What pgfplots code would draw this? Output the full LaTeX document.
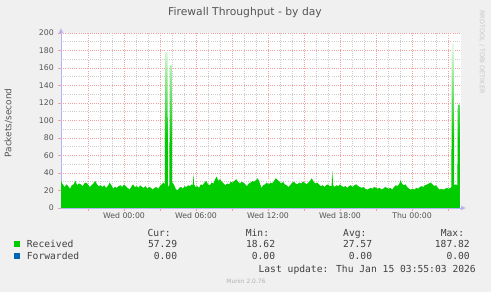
\documentclass[border=0pt]{standalone}
\usepackage{pgfplots}
\pgfplotsset{compat=1.18}
\usepackage{pgfplotstable}
\usepackage{fontspec}
\setmainfont{DejaVu Sans}
\newfontfamily\mono{DejaVu Sans Mono}
\usetikzlibrary{arrows.meta}
\definecolor{bgc}{HTML}{F0F0F0}
\definecolor{txt}{HTML}{555555}
\definecolor{legtxt}{HTML}{404040}
\definecolor{axc}{HTML}{B4B4F0}
\definecolor{recv}{HTML}{00CC00}
\definecolor{fwd}{HTML}{0066B3}
\definecolor{mgrid}{HTML}{F2A0A0}
\definecolor{ngrid}{HTML}{CCCCCC}
\pgfdeclareverticalshading{spikefade}{100bp}{color(0bp)=(recv); color(25bp)=(recv); color(46bp)=(recv); color(62bp)=(recv!50!white); color(75bp)=(recv!8!white); color(100bp)=(recv!8!white)}

\pgfplotstableread{
h v
-5.25 31
-5.10 27
-4.95 24
-4.80 27
-4.65 25
-4.50 22
-4.35 26
-4.20 27
-4.05 31
-3.90 26
-3.75 28
-3.60 27
-3.45 25
-3.30 28
-3.15 29
-3.00 27
-2.85 24
-2.70 26
-2.55 28
-2.40 31
-2.25 27
-2.10 25
-1.95 26
-1.80 24
-1.65 26
-1.50 23
-1.35 25
-1.20 29
-1.05 26
-0.90 22
-0.75 24
-0.60 23
-0.45 25
-0.30 26
-0.15 24
0.00 27
0.15 25
0.30 23
0.45 21
0.60 24
0.75 27
0.90 24
1.05 25
1.20 23
1.35 26
1.50 24
1.65 23
1.80 25
1.95 22
2.10 24
2.25 23
2.40 21
2.55 23
2.70 24
2.85 22
3.00 25
3.15 27
3.30 29
3.40 27
3.43 178
3.63 178
3.66 26
3.72 24
3.78 27
3.81 163
3.99 163
4.02 29
4.15 27
4.30 22
4.45 20
4.60 23
4.75 24
4.90 22
5.05 25
5.20 24
5.35 26
5.50 25
5.65 27
5.74 26
5.78 39
5.84 27
5.95 24
6.10 25
6.25 23
6.40 27
6.55 26
6.70 29
6.85 31
7.00 27
7.15 26
7.30 29
7.45 28
7.60 33
7.72 36
7.85 31
8.00 33
8.15 30
8.30 28
8.45 26
8.60 28
8.75 27
8.90 30
9.05 29
9.20 31
9.35 33
9.50 30
9.65 28
9.80 30
9.95 29
10.10 27
10.25 25
10.40 28
10.55 29
10.70 31
10.85 30
11.00 32
11.15 34
11.30 29
11.45 23
11.60 26
11.75 27
11.90 29
12.05 27
12.20 29
12.35 28
12.50 31
12.65 34
12.80 32
12.95 30
13.10 28
13.25 30
13.40 27
13.55 26
13.70 24
13.85 26
14.00 29
14.15 30
14.30 28
14.45 27
14.60 29
14.75 28
14.90 30
15.05 29
15.20 27
15.35 29
15.50 31
15.65 34
15.80 30
15.95 28
16.10 29
16.25 27
16.40 25
16.55 26
16.70 24
16.85 26
17.00 27
17.15 25
17.30 25
17.35 42
17.43 26
17.55 24
17.70 26
17.85 25
18.00 27
18.15 25
18.30 24
18.45 25
18.60 23
18.75 25
18.90 26
19.05 24
19.20 26
19.35 27
19.50 25
19.65 24
19.80 23
19.95 24
20.10 22
20.25 21
20.40 22
20.55 23
20.70 22
20.85 24
21.00 23
21.15 22
21.30 23
21.45 21
21.60 22
21.75 24
21.90 23
22.05 22
22.20 23
22.35 21
22.50 24
22.65 26
22.80 25
22.95 28
23.05 32
23.15 28
23.30 26
23.45 27
23.60 24
23.75 22
23.90 21
24.05 22
24.20 21
24.35 23
24.50 22
24.65 24
24.80 25
24.95 24
25.10 26
25.25 27
25.40 28
25.55 29
25.70 27
25.85 25
26.00 26
26.15 23
26.30 21
26.45 22
26.60 21
26.75 22
26.90 23
27.05 22
27.20 23
27.28 24
27.31 187.8
27.48 187.8
27.51 26
27.65 27
27.78 26
27.81 118
27.98 118
}\recvtable

\begin{document}
\begin{tikzpicture}
\fill[bgc] (0,0) rectangle (491bp,292bp);
\begin{axis}[
  at={(61bp,84bp)}, anchor=south west,
  scale only axis, width=400bp, height=175bp,
  xmin=-5.25, xmax=28.08, ymin=0, ymax=200,
  axis background/.style={fill=white},
  axis lines=left,
  axis line style={draw=axc, line width=0.8bp},
  x axis line style={-{Latex[length=5bp,width=5bp]}, shorten >=-5bp},
  y axis line style={-{Latex[length=5bp,width=5bp]}, shorten >=-5bp},
  xtick={-3,0,...,27},
  xticklabels={,Wed 00:00,,Wed 06:00,,Wed 12:00,,Wed 18:00,,Thu 00:00,},
  ytick={0,20,...,200},
  minor x tick num=2, minor y tick num=1,
  grid=both,
  major grid style={draw=mgrid, dash pattern=on 1bp off 1.2bp, line width=0.7bp},
  minor grid style={draw=ngrid, dash pattern=on 1bp off 1.2bp, line width=0.7bp},
  tick align=outside,
  major tick length=3bp, minor tick length=0pt,
  tick style={draw=mgrid, line width=0.8bp},
  /pgf/number format/assume math mode=true,
  ticklabel style={font=\fontsize{7.8}{9}\selectfont, text=txt, inner sep=0pt},
  yticklabel style={xshift=-4bp},
  xticklabel style={yshift=-1bp},
  clip=false,
]
\addplot[draw=none, shading=spikefade] table[x=h,y=v]{\recvtable} \closedcycle;
\end{axis}
% title and labels
\node[text=txt, font=\fontsize{10.8}{13}\selectfont, anchor=base] at (245bp,276.4bp) {Firewall Throughput - by day};
\node[text=txt, font=\fontsize{9}{11}\selectfont, rotate=90] at (8.5bp,169bp) {Packets/second};
\node[text=black!22, font=\fontsize{6.5}{8}\selectfont, rotate=-90] at (482bp,240bp) {RRDTOOL / TOBI OETIKER};
% legend
\begin{scope}[every node/.style={inner sep=0pt, text=legtxt, font=\mono\fontsize{9.7}{11}\selectfont}]
\node[anchor=base east] at (171bp,55.2bp) {Cur:};
\node[anchor=base east] at (269.3bp,55.2bp) {Min:};
\node[anchor=base east] at (366.7bp,55.2bp) {Avg:};
\node[anchor=base east] at (464.3bp,55.2bp) {Max:};
\fill[recv] (14bp,44.5bp) rectangle (20bp,50.5bp);
\node[anchor=base west] at (26.7bp,44.2bp) {Received};
\node[anchor=base east] at (177.3bp,44.2bp) {57.29};
\node[anchor=base east] at (275.3bp,44.2bp) {18.62};
\node[anchor=base east] at (372.3bp,44.2bp) {27.57};
\node[anchor=base east] at (470bp,44.2bp) {187.82};
\fill[fwd] (14bp,33bp) rectangle (20bp,39bp);
\node[anchor=base west] at (26.7bp,32.5bp) {Forwarded};
\node[anchor=base east] at (177.3bp,32.5bp) {0.00};
\node[anchor=base east] at (275.3bp,32.5bp) {0.00};
\node[anchor=base east] at (372.3bp,32.5bp) {0.00};
\node[anchor=base east] at (470bp,32.5bp) {0.00};
\node[anchor=base east] at (476bp,19.8bp) {Last update: Thu Jan 15 03:55:03 2026};
\end{scope}
\node[text=black!30, font=\fontsize{6}{7}\selectfont, anchor=base] at (246bp,8.1bp) {Munin 2.0.76};
\pgfresetboundingbox
\useasboundingbox (0,0) rectangle (491bp,292bp);
\end{tikzpicture}
\end{document}
